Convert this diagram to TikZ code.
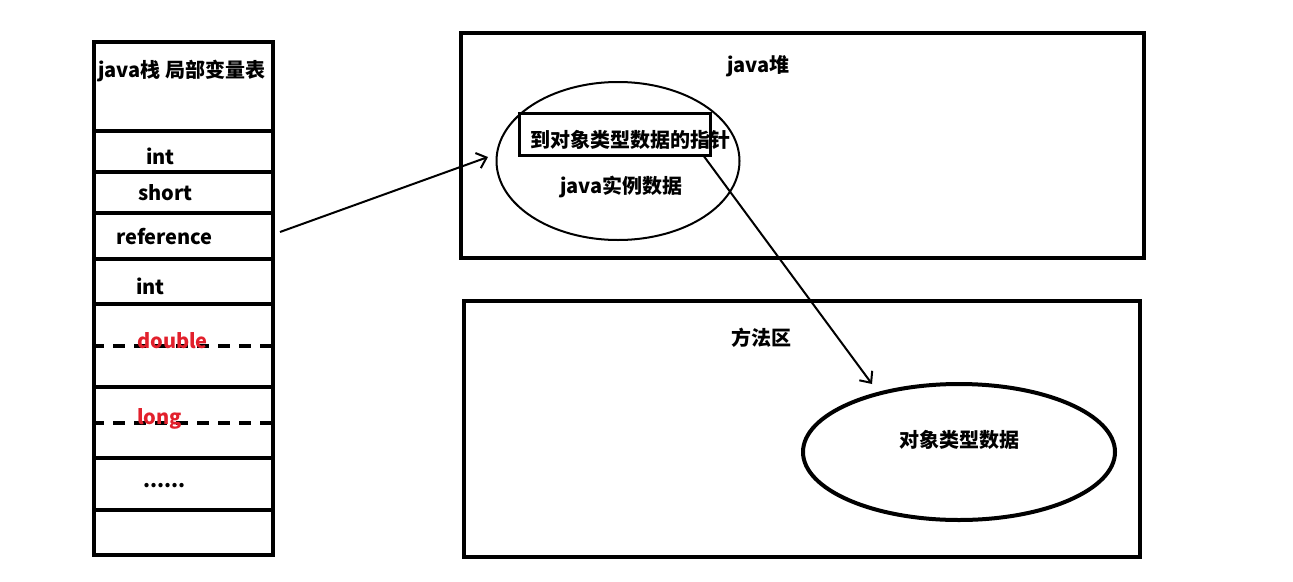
\documentclass[tikz,border=0pt]{standalone}
\usepackage{fontspec}
\setmainfont{Noto Sans CJK SC}
\usetikzlibrary{arrows.meta,shapes.geometric}
\definecolor{redtxt}{RGB}{226,32,44}
\begin{document}
\begin{tikzpicture}[x=1pt,y=-1pt,
  cell/.style={draw,line width=4pt,minimum width=179pt,inner sep=0pt,anchor=north west},
  areabox/.style={draw,line width=4pt,inner sep=0pt,anchor=north west},
  lbl/.style={font=\bfseries\fontsize{20}{20}\selectfont,inner sep=0pt,anchor=west,text height=.76em,text depth=0pt},
  redlbl/.style={lbl,text=redtxt},
  dashline/.style={line width=4pt,dash pattern=on 12pt off 9pt},
  arrowline/.style={line width=2pt,-{Straight Barb[length=9pt,width=16pt,line width=2pt]}}]
\useasboundingbox (0,0) rectangle (1293,581);
% stack cells
\node[cell,minimum height=89pt] (c0) at (92,40) {};
\node[cell,minimum height=41pt] (c1) at (92,129) {};
\node[cell,minimum height=41pt] (c2) at (92,170) {};
\node[cell,minimum height=46pt] (c3) at (92,211) {};
\node[cell,minimum height=45pt] (c4) at (92,257) {};
\node[cell,minimum height=83pt] (c5) at (92,302) {};
\node[cell,minimum height=71pt] (c6) at (92,385) {};
\node[cell,minimum height=52pt] (c7) at (92,456) {};
\node[cell,minimum height=45pt] (c8) at (92,508) {};
\draw[dashline] (c5.west) -- (c5.east);
\draw[dashline] (c6.west) -- (c6.east);
% stack labels
\node[lbl] (t0) at (98,74) {java栈 局部变量表};
\node[lbl] (t1) at (146,161) {int};
\node[lbl] (t2) at (138,197) {short};
\node[lbl] (t3) at (116,241) {reference};
\node[lbl] (t4) at (136,291) {int};
\node[redlbl] (t5) at (137,345) {double};
\node[redlbl] (t6) at (137,421) {long};
\node[lbl] (t7) at (143,484) {......};
% heap
\node[areabox,minimum width=683pt,minimum height=225pt] (heap) at (459,31) {};
\node[lbl] (heaplbl) at (727,69) {java堆};
\node[draw,ellipse,line width=2pt,minimum width=243pt,minimum height=158pt,inner sep=0pt] (inst) at (618,161) {};
\node[draw,line width=3pt,minimum width=191pt,minimum height=42pt,inner sep=0pt] (ptr) at (614.5,134) {};
\node[lbl] (ptrlbl) at (530,144) {到对象类型数据的指针};
\node[lbl] (instlbl) at (560,190) {java实例数据};
% method area
\node[areabox,minimum width=676pt,minimum height=256pt] (method) at (462,299) {};
\node[lbl] (methodlbl) at (731,342) {方法区};
\node[draw,ellipse,line width=4pt,minimum width=312pt,minimum height=136pt,inner sep=0pt] (cls) at (959,452) {};
\node[lbl] (clslbl) at (899,444) {对象类型数据};
% connectors
\coordinate (refstart) at (280,232);
\coordinate (insttip) at (488,157);
\draw[arrowline] (refstart) -- (insttip);
\coordinate (ptrstart) at (703,155);
\coordinate (clstip) at (872,384);
\draw[arrowline] (ptrstart) -- (clstip);
\end{tikzpicture}
\end{document}
